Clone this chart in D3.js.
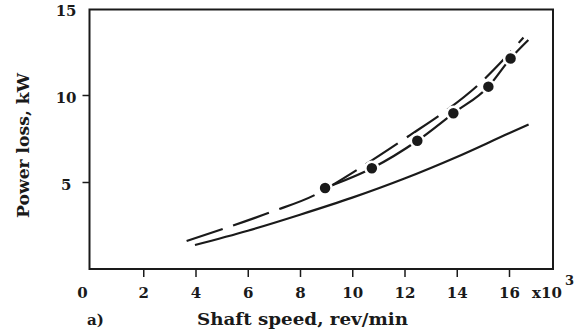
<!DOCTYPE html>
<html>
<head>
<meta charset="utf-8">
<script src="https://cdn.jsdelivr.net/npm/d3@7"></script>
<style>
  body { margin: 0; background: #fff; }
  text { font-family: "DejaVu Serif", serif; font-weight: bold; fill: #1a1a1a; }
</style>
</head>
<body>
<div id="container"></div>
<script>
// values (speed in 10^3 rev/min, loss in kW)
const xTicks = [0, 2, 4, 6, 8, 10, 12, 14, 16];
const yTicks = [5, 10, 15];

const solidX = [3.98, 6.0, 8.0, 10.0, 12.0, 14.0, 16.0, 16.75];
const solidY = [1.38, 2.2, 3.12, 4.1, 5.2, 6.44, 7.8, 8.3];

const upperX = [3.66, 5.13, 6.92, 8.64, 9.3, 10.5, 12.2, 13.5, 14.8, 15.8, 16.55];
const upperY = [1.61, 2.34, 3.29, 4.31, 4.88, 6.0, 7.68, 9.0, 10.55, 12.05, 13.3];

const measX = [8.96, 10.75, 12.49, 13.87, 15.21, 16.06];
const measY = [4.66, 5.79, 7.37, 8.95, 10.48, 12.1];
const lowerEnd = [16.74, 13.16];

const width = 578, height = 336;
const svg = d3.select("#container").append("svg")
  .attr("width", width)
  .attr("height", height);

const x = d3.scaleLinear().domain([0, 16]).range([91, 509]);
const y = d3.scaleLinear().domain([0, 10]).range([269, 95]);

const ink = "#1a1a1a";

// frame
svg.append("rect")
  .attr("x", 89.5).attr("y", 9.5)
  .attr("width", 553 - 89.5).attr("height", 269 - 9.5)
  .attr("fill", "none")
  .attr("stroke", ink)
  .attr("stroke-width", 2);

// x axis
const gx = svg.append("g")
  .attr("transform", "translate(0,269)")
  .call(d3.axisBottom(x).tickValues(xTicks).tickSize(8).tickPadding(10).tickFormat(d3.format("d")));
gx.select(".domain").remove();
gx.selectAll(".tick line").attr("stroke", ink).attr("stroke-width", 1.5);
gx.selectAll(".tick text").style("font-size", "15px").attr("fill", ink);
gx.selectAll(".tick").filter(d => d === 0).select("line").remove();
gx.selectAll(".tick").filter(d => d === 0).select("text").attr("x", -9);

// y axis
const gy = svg.append("g")
  .attr("transform", "translate(89.5,0)")
  .call(d3.axisLeft(y).tickValues(yTicks).tickSize(7).tickPadding(6).tickFormat(d3.format("d")));
gy.select(".domain").remove();
gy.selectAll(".tick line").attr("stroke", ink).attr("stroke-width", 1.5);
gy.selectAll(".tick text").style("font-size", "15px").attr("dy", "0.48em").attr("fill", ink);
gy.selectAll(".tick").filter(d => d === 15).select("line").remove();
gy.selectAll(".tick").filter(d => d === 5).select("text").attr("x", -18);

// multiplier
svg.append("text").attr("x", 532).attr("y", 297.5).style("font-size", "15px").text("x10");
svg.append("text").attr("x", 565).attr("y", 285).style("font-size", "13px").text("3");

// axis titles
svg.append("text")
  .attr("x", 302.5).attr("y", 325)
  .attr("text-anchor", "middle")
  .attr("textLength", 211).attr("lengthAdjust", "spacingAndGlyphs")
  .style("font-size", "16px")
  .text("Shaft speed, rev/min");

svg.append("text")
  .attr("x", 87).attr("y", 325)
  .style("font-size", "15px")
  .text("a)");

svg.append("text")
  .attr("transform", "translate(29,145.5) rotate(-90)")
  .attr("text-anchor", "middle")
  .attr("textLength", 145).attr("lengthAdjust", "spacingAndGlyphs")
  .style("font-size", "16px")
  .text("Power loss, kW");

// curves
const line = d3.line()
  .x(d => x(d[0]))
  .y(d => y(d[1]))
  .curve(d3.curveMonotoneX);

svg.append("path")
  .datum(d3.zip(solidX, solidY))
  .attr("d", line)
  .attr("fill", "none")
  .attr("stroke", ink)
  .attr("stroke-width", 2.2);

svg.append("path")
  .datum(d3.zip(upperX, upperY))
  .attr("d", line)
  .attr("fill", "none")
  .attr("stroke", ink)
  .attr("stroke-width", 2.2)
  .attr("stroke-dasharray", "38,11");

svg.append("path")
  .datum(d3.zip(measX, measY).concat([lowerEnd]))
  .attr("d", line)
  .attr("fill", "none")
  .attr("stroke", ink)
  .attr("stroke-width", 2.2);

svg.append("g")
  .selectAll("circle")
  .data(d3.zip(measX, measY))
  .join("circle")
  .attr("cx", d => x(d[0]))
  .attr("cy", d => y(d[1]))
  .attr("r", 6.5)
  .attr("fill", ink)
  .attr("stroke", "#fff")
  .attr("stroke-width", 2.5);
</script>
</body>
</html>
